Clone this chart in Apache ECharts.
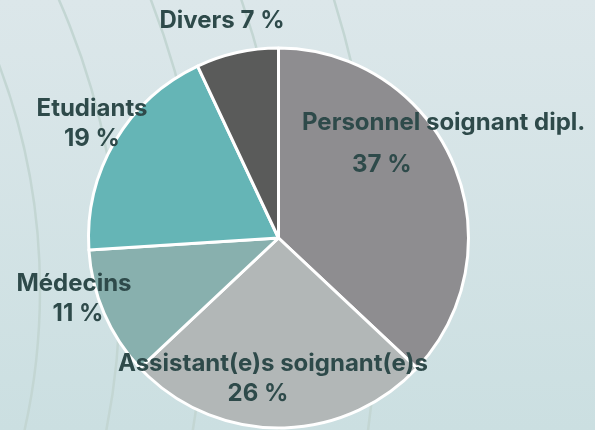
<!DOCTYPE html>
<html>
<head>
<meta charset="utf-8">
<script src="https://cdn.jsdelivr.net/npm/echarts@6/dist/echarts.min.js"></script>
<style>
  html, body { margin: 0; padding: 0; }
  #chart { width: 595px; height: 430px; }
</style>
</head>
<body>
<div id="chart"></div>
<script>
// ---- data ----
const categories = ['Personnel soignant dipl.', 'Assistant(e)s soignant(e)s', 'Médecins', 'Etudiants', 'Divers'];
const values = [37, 26, 11, 19, 7];
const singleLine = [false, false, false, false, true];

// ---- styles / layout ----
const sliceColors = ['#8e8d90', '#b2b7b7', '#88b0ae', '#65b5b6', '#5a5b5a'];
const labelPos = [
  { x: 302, y: 150, align: 'left' },
  { x: 273, y: 379, align: 'center' },
  { x: 74, y: 298.5, align: 'center' },
  { x: 92, y: 123.5, align: 'center' },
  { x: 222, y: 21, align: 'center' }
];
const valueTokenStyle = [
  { lineHeight: 54, padding: [0, 0, 0, 50] },
  { padding: [0, 30, 0, 0] },
  { padding: [0, 0, 0, 8] },
  {},
  {}
];
const arcRadii = [640, 720, 805, 890, 978];

const chart = echarts.init(document.getElementById('chart'), null, { renderer: 'canvas' });

const textColor = '#2e4a4a';
const fontFamily = 'Inter, "Noto Sans", sans-serif';
const fontSize = 24;

const seriesData = categories.map((name, i) => ({
  name,
  value: values[i],
  itemStyle: { color: sliceColors[i] },
  label: { rich: { v: Object.assign({}, valueTokenStyle[i]) } }
}));

chart.setOption({
  backgroundColor: {
    type: 'linear', x: 0, y: 0, x2: 0, y2: 1,
    colorStops: [{ offset: 0, color: '#dce7ea' }, { offset: 1, color: '#cbdfe1' }]
  },
  animation: false,
  graphic: {
    elements: arcRadii.map(r => ({
      type: 'circle',
      silent: true,
      z: 0,
      shape: { cx: -600, cy: 290, r },
      style: { fill: null, stroke: '#c3d6d3', lineWidth: 2.5 }
    }))
  },
  series: [{
    type: 'pie',
    z: 2,
    center: [278.5, 238],
    radius: 190,
    startAngle: 90,
    clockwise: true,
    data: seriesData,
    itemStyle: { borderColor: '#ffffff', borderWidth: 3 },
    emphasis: { disabled: true },
    labelLine: { show: false },
    label: {
      show: true,
      position: 'inside',
      color: textColor,
      fontFamily,
      fontSize,
      fontWeight: 700,
      lineHeight: 30,
      formatter: p => singleLine[p.dataIndex]
        ? `{n|${p.name} ${p.value} %}`
        : `{n|${p.name}}\n{v|${p.value} %}`,
      rich: {
        n: { color: textColor, fontFamily, fontSize, fontWeight: 700, lineHeight: 30 },
        v: { color: textColor, fontFamily, fontSize, fontWeight: 700, lineHeight: 30 }
      }
    },
    labelLayout: p => ({
      x: labelPos[p.dataIndex].x,
      y: labelPos[p.dataIndex].y,
      align: labelPos[p.dataIndex].align,
      verticalAlign: 'middle',
      hideOverlap: false,
      moveOverlap: null
    })
  }]
});
</script>
</body>
</html>
